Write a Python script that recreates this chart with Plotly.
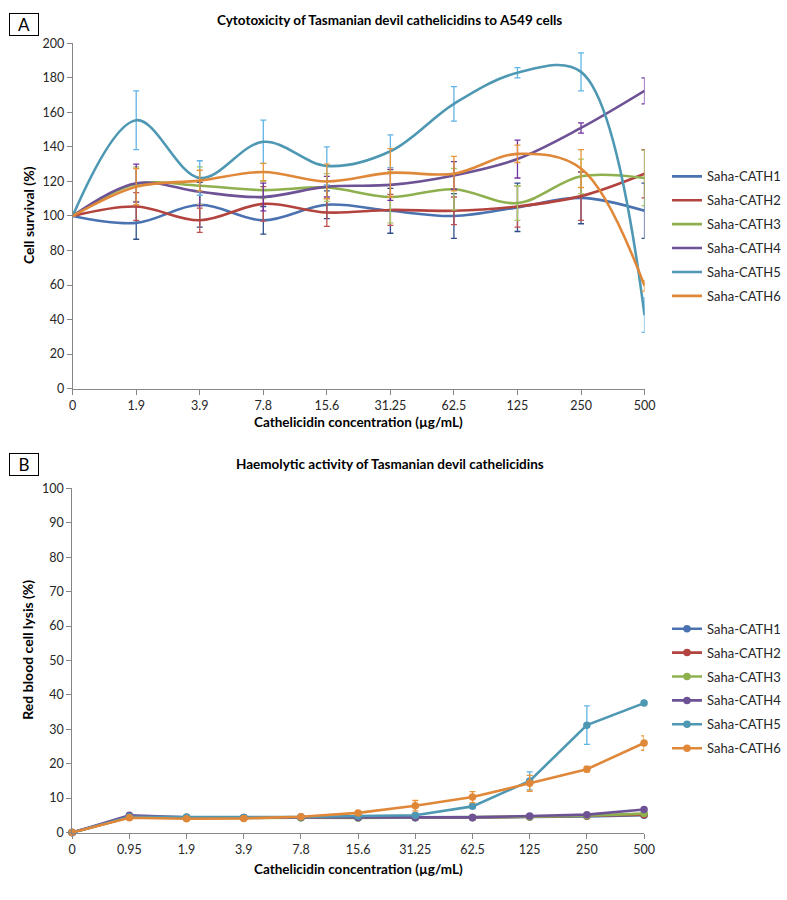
import plotly.graph_objects as go

# ---------------- data ----------------
series_names = ["Saha-CATH1", "Saha-CATH2", "Saha-CATH3", "Saha-CATH4", "Saha-CATH5", "Saha-CATH6"]

conc_top = ["0", "1.9", "3.9", "7.8", "15.6", "31.25", "62.5", "125", "250", "500"]
conc_bottom = ["0", "0.95", "1.9", "3.9", "7.8", "15.6", "31.25", "62.5", "125", "250", "500"]

# Panel A: cell survival (%)
surv_cath1 = [100, 96, 106.5, 97.5, 106.5, 103, 100, 105, 110.5, 103]
surv_cath2 = [100, 105.5, 97.5, 107, 102, 103.5, 103, 105.5, 111.5, 124.5]
surv_cath3 = [100, 118.5, 117.5, 115, 116.5, 111, 115.5, 107.5, 123, 122]
surv_cath4 = [100, 119, 114, 111, 117, 118, 123.5, 133, 151, 172.5]
surv_cath5 = [100, 155.5, 122, 143, 129, 137.5, 165, 183, 183.5, 42.5]
surv_cath6 = [100, 117, 120.5, 125.5, 120, 125, 124.5, 136, 127.5, 59.5]

surv_err1 = [0, 9.5, 13, 8, 8, 13, 13, 14, 15, 16]
surv_err2 = [0, 8, 7, 10, 8, 9, 8, 12, 14, 14]
surv_err3 = [0, 10, 11, 5, 8, 15, 12, 10, 10, 16]
surv_err4 = [0, 11, 8, 8, 6, 9, 8, 11, 3, 7.5]
surv_err5 = [0, 17, 10, 12.5, 11, 9.5, 10, 3, 11, 10]
surv_err6 = [0, 10.5, 6, 5, 10, 14, 10, 5, 11, 3]

# Panel B: red blood cell lysis (%)
lysis_cath1 = [0, 4.5, 4.3, 4.3, 4.3, 4.3, 4.3, 4.3, 4.5, 4.7, 5.0]
lysis_cath2 = [0, 4.5, 4.3, 4.3, 4.4, 4.4, 4.4, 4.4, 4.6, 4.8, 5.2]
lysis_cath3 = [0, 4.5, 4.2, 4.3, 4.3, 4.2, 4.3, 4.4, 4.6, 4.9, 5.5]
lysis_cath4 = [0, 5.0, 4.4, 4.4, 4.5, 4.4, 4.4, 4.4, 4.8, 5.2, 6.7]
lysis_cath5 = [0, 4.6, 4.5, 4.4, 4.5, 4.8, 5.0, 7.6, 15.0, 31.2, 37.6]
lysis_cath6 = [0, 4.3, 4.0, 4.1, 4.6, 5.7, 7.8, 10.3, 14.3, 18.4, 26.0]

lysis_err1 = [0, 0.3, 0.3, 0.3, 0.3, 0.3, 0.3, 0.3, 0.3, 0.3, 0.3]
lysis_err2 = [0, 0.3, 0.3, 0.3, 0.3, 0.3, 0.3, 0.3, 0.3, 0.3, 0.3]
lysis_err3 = [0, 0.3, 0.3, 0.3, 0.3, 0.3, 0.3, 0.3, 0.3, 0.3, 0.4]
lysis_err4 = [0, 0.3, 0.3, 0.3, 0.3, 0.3, 0.3, 0.3, 0.3, 0.3, 0.4]
lysis_err5 = [0, 0.3, 0.3, 0.3, 0.3, 0.3, 0.5, 0.6, 2.6, 5.6, 0.6]
lysis_err6 = [0, 0.3, 0.3, 0.3, 0.3, 0.5, 1.5, 1.6, 2.3, 0.8, 2.1]

# ---------------- styles ----------------
line_colors = ["#4A72B0", "#B2433F", "#8FB04F", "#6E5296", "#4E98B3", "#E0883A"]
err_colors = ["#2E4E8A", "#C0504D", "#A8C968", "#7030A0", "#62B4E4", "#E9963A"]
FONT = "Lato, 'Open Sans', Arial, sans-serif"
TXT = "#262626"
AX = "#868686"

surv = [surv_cath1, surv_cath2, surv_cath3, surv_cath4, surv_cath5, surv_cath6]
surv_err = [surv_err1, surv_err2, surv_err3, surv_err4, surv_err5, surv_err6]
lysis = [lysis_cath1, lysis_cath2, lysis_cath3, lysis_cath4, lysis_cath5, lysis_cath6]
lysis_err = [lysis_err1, lysis_err2, lysis_err3, lysis_err4, lysis_err5, lysis_err6]

fig = go.Figure()

xt = list(range(len(conc_top)))
for i, name in enumerate(series_names):
    fig.add_trace(go.Scatter(
        x=xt, y=surv[i], name=name, mode="lines",
        line=dict(color=line_colors[i], width=2.6, shape="spline", smoothing=1.0),
        error_y=dict(type="data", array=surv_err[i], visible=True,
                     color=err_colors[i], thickness=1.3, width=3),
        xaxis="x", yaxis="y", legend="legend", legendgroup="a" + str(i),
        cliponaxis=False,
    ))

xb = list(range(len(conc_bottom)))
for i, name in enumerate(series_names):
    fig.add_trace(go.Scatter(
        x=xb, y=lysis[i], name=name, mode="lines+markers",
        line=dict(color=line_colors[i], width=2.6),
        marker=dict(color=line_colors[i], size=7.5),
        error_y=dict(type="data", array=lysis_err[i], visible=True,
                     color=err_colors[i], thickness=1.3, width=3),
        xaxis="x2", yaxis="y2", legend="legend2", legendgroup="b" + str(i),
        cliponaxis=False,
    ))

W, H = 787, 900
def px(x):
    return x / W
def py(y):
    return 1 - y / H

axis_common = dict(showgrid=False, zeroline=False, showline=True, linecolor=AX, linewidth=1,
                   ticks="outside", tickcolor=AX, ticklen=5, tickwidth=1,
                   tickfont=dict(family=FONT, size=12.5, color=TXT))

fig.update_layout(
    width=W, height=H, margin=dict(l=0, r=0, t=0, b=0),
    paper_bgcolor="white", plot_bgcolor="white",
    font=dict(family=FONT, color=TXT),
    xaxis=dict(domain=[px(70), px(653)], anchor="y", range=[0, 9],
               tickmode="array", tickvals=xt, ticktext=conc_top, **axis_common),
    yaxis=dict(domain=[py(387), py(36)], anchor="x", range=[0, 200],
               tickmode="array", tickvals=list(range(0, 201, 20)), **axis_common),
    xaxis2=dict(domain=[px(69.5), px(652.5)], anchor="y2", range=[0, 10],
                tickmode="array", tickvals=xb, ticktext=conc_bottom, **axis_common),
    yaxis2=dict(domain=[py(838.5), py(488.5)], anchor="x2", range=[0, 100],
                tickmode="array", tickvals=list(range(0, 101, 10)), **axis_common),
    legend=dict(x=px(676), y=py(156), xanchor="left", yanchor="top",
                font=dict(family=FONT, size=13, color=TXT), tracegroupgap=4,
                bgcolor="rgba(0,0,0,0)", itemwidth=30),
    legend2=dict(x=px(676), y=py(616), xanchor="left", yanchor="top",
                 font=dict(family=FONT, size=13, color=TXT), tracegroupgap=4,
                 bgcolor="rgba(0,0,0,0)", itemwidth=30),
    showlegend=True,
)

annots = [
    dict(text="<b>Cytotoxicity of Tasmanian devil cathelicidins to A549 cells</b>",
         x=px(393), y=py(12), font=dict(size=13.5)),
    dict(text="<b>Haemolytic activity of Tasmanian devil cathelicidins</b>",
         x=px(393), y=py(464), font=dict(size=13.5)),
    dict(text="<b>Cathelicidin concentration (µg/mL)</b>",
         x=px(361), y=py(421), font=dict(size=13.5)),
    dict(text="<b>Cathelicidin concentration (µg/mL)</b>",
         x=px(361), y=py(876), font=dict(size=13.5)),
    dict(text="<b>Cell survival (%)</b>", x=px(25), y=py(211), textangle=-90,
         font=dict(size=14)),
    dict(text="<b>Red blood cell lysis (%)</b>", x=px(24), y=py(653), textangle=-90,
         font=dict(size=14)),
]
for a in annots:
    a.update(xref="paper", yref="paper", showarrow=False, xanchor="center", yanchor="middle")
    a["font"].update(family=FONT, color="#000000")
    fig.add_annotation(**a)

for letter, top in (("A", 5), ("B", 453)):
    fig.add_annotation(text=letter, xref="paper", yref="paper", x=px(5), y=py(top),
                       xanchor="left", yanchor="top", showarrow=False,
                       width=28, height=21, bordercolor="#000000", borderwidth=1,
                       borderpad=0, font=dict(family=FONT, size=17, color="#000000"))

fig.write_html("out.html", config={"displayModeBar": False},
               post_script="document.body.style.margin='0';document.body.style.overflow='hidden';")
